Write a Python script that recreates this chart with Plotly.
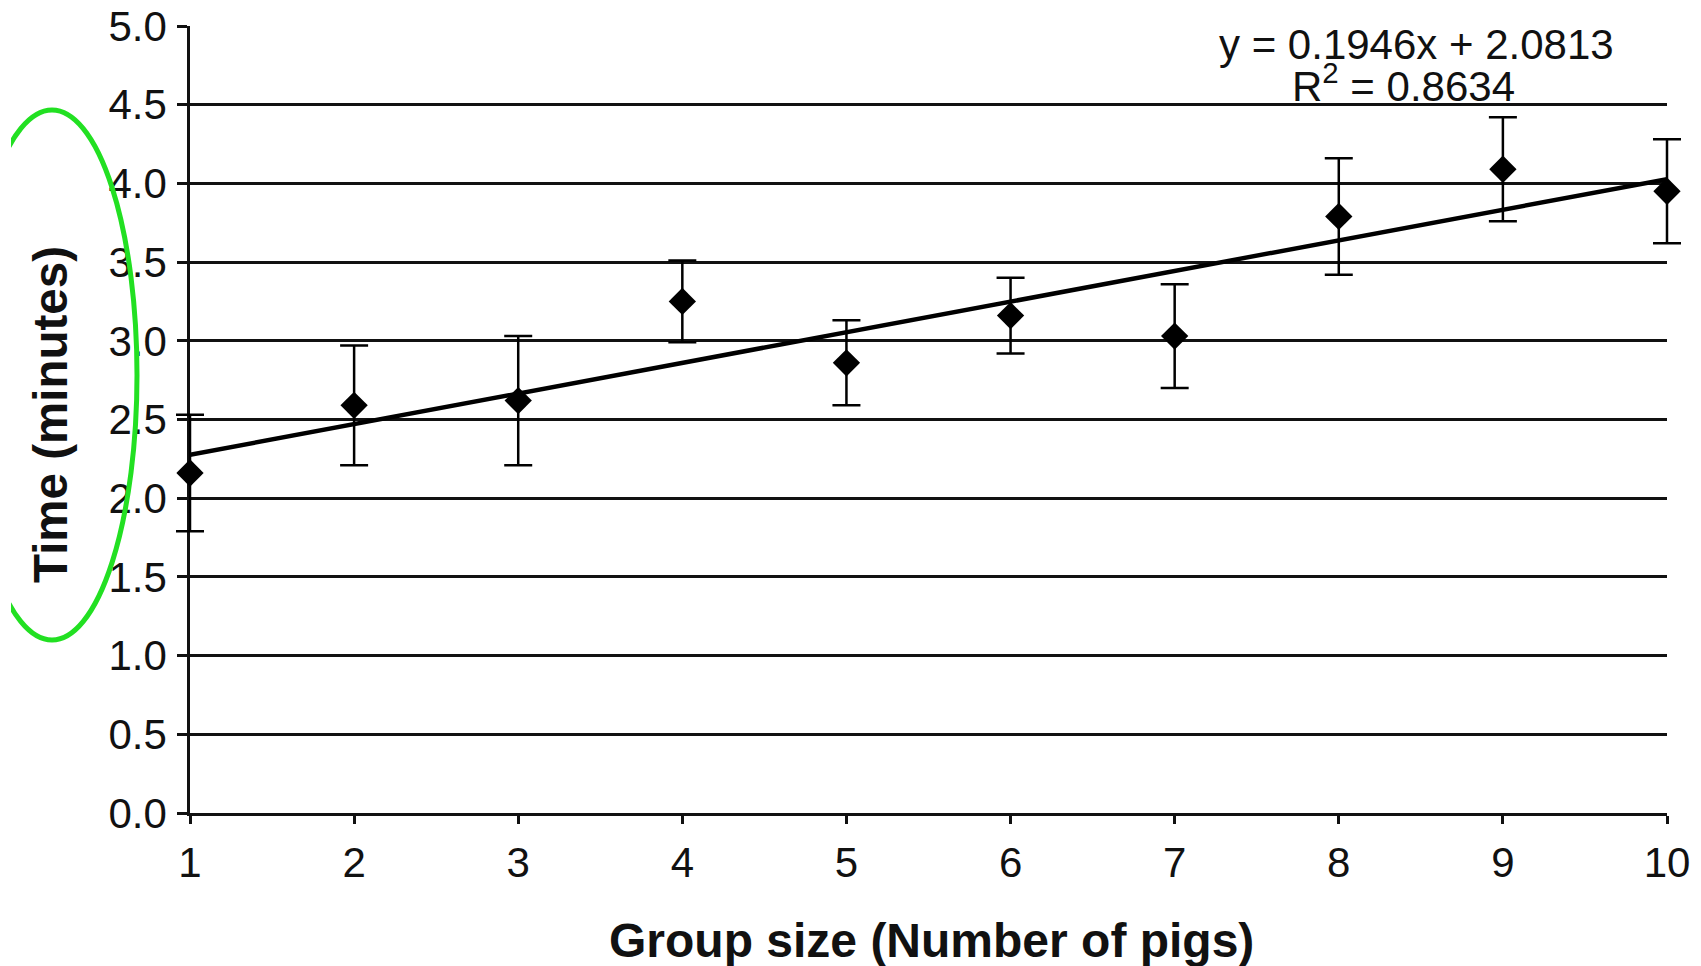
import plotly.graph_objects as go

# ---- data ----
group_size = [1, 2, 3, 4, 5, 6, 7, 8, 9, 10]
mean_time = [2.16, 2.59, 2.62, 3.25, 2.86, 3.16, 3.03, 3.79, 4.09, 3.95]
error_time = [0.37, 0.38, 0.41, 0.26, 0.27, 0.24, 0.33, 0.37, 0.33, 0.33]
trend_slope = 0.1946
trend_intercept = 2.0813
r_squared = 0.8634
y_ticks = [0.0, 0.5, 1.0, 1.5, 2.0, 2.5, 3.0, 3.5, 4.0, 4.5, 5.0]
x_range = [1, 10]
y_range = [0, 5]

# ---- layout geometry (pixels) ----
W, H = 1701, 966
ML, MR, MT, MB = 150, 10, 26, 153          # paper area
AX_L, AX_R = 190, 1667                      # x = 1 and x = 10 positions
PW, PH = W - ML - MR, H - MT - MB

d0 = (AX_L - ML) / PW
d1 = (AX_R - ML) / PW
unit = (AX_R - AX_L) / (x_range[1] - x_range[0])
x2_range = [x_range[0] - (AX_L - ML) / unit, x_range[1] + (W - MR - AX_R) / unit]


def px_x(px):
    return (px - ML) / PW


def px_y(py):
    return (H - MB - py) / PH


FONT = "Liberation Sans, Arial, Helvetica, sans-serif"
INK = "#111111"

trend_x = [x_range[0], x_range[1]]
trend_y = [trend_slope * v + trend_intercept for v in trend_x]

fig = go.Figure()

fig.add_trace(go.Scatter(
    x=trend_x, y=trend_y, mode="lines", xaxis="x", yaxis="y",
    line=dict(color="black", width=4.5),
    cliponaxis=False, showlegend=False, hoverinfo="skip",
))

fig.add_trace(go.Scatter(
    x=group_size, y=mean_time, mode="markers", xaxis="x2", yaxis="y2",
    marker=dict(symbol="diamond", size=21, color="black"),
    error_y=dict(type="data", array=error_time, visible=True,
                 color="black", thickness=2.5, width=14),
    cliponaxis=False, showlegend=False,
))

fig.update_layout(
    width=W, height=H,
    margin=dict(l=ML, r=MR, t=MT, b=MB, autoexpand=False),
    paper_bgcolor="white", plot_bgcolor="rgba(0,0,0,0)",
    font=dict(family=FONT, color=INK, size=42),
    xaxis=dict(
        domain=[d0, d1], anchor="y",
        range=x_range, tickmode="array", tickvals=group_size,
        ticktext=[str(v) for v in group_size],
        showgrid=False, zeroline=False,
        showline=True, linecolor=INK, linewidth=2.5,
        ticks="outside", ticklen=8, tickwidth=2.5, tickcolor=INK,
        tickfont=dict(size=42, family=FONT, color=INK),
        ticklabelstandoff=3,
    ),
    yaxis=dict(
        domain=[0, 1], anchor="x",
        range=y_range, tickmode="array", tickvals=y_ticks,
        ticktext=[f"{v:.1f}" for v in y_ticks],
        showgrid=True, gridcolor=INK, gridwidth=2.5,
        zeroline=False,
        showline=True, linecolor=INK, linewidth=2.5,
        ticks="outside", ticklen=10, tickwidth=2.5, tickcolor=INK,
        tickfont=dict(size=42, family=FONT, color=INK),
        ticklabelstandoff=2,
    ),
    xaxis2=dict(
        domain=[0, 1], anchor="y2", range=x2_range,
        visible=False, showgrid=False, zeroline=False,
    ),
    yaxis2=dict(
        domain=[0, 1], anchor="x2", range=y_range,
        visible=False, showgrid=False, zeroline=False,
    ),
    annotations=[
        dict(text=f"y = {trend_slope}x + {trend_intercept}",
             xref="paper", yref="paper", x=px_x(1416), y=px_y(44),
             xanchor="center", yanchor="middle", showarrow=False,
             borderpad=0,
             font=dict(size=42, family=FONT, color=INK)),
        dict(text=f"R<sup>2</sup> = {r_squared}",
             xref="paper", yref="paper", x=px_x(1403), y=px_y(83),
             xanchor="center", yanchor="middle", showarrow=False,
             borderpad=0,
             font=dict(size=42, family=FONT, color=INK)),
        dict(text="<b>Group size (Number of pigs)</b>",
             xref="paper", yref="paper", x=px_x(931), y=px_y(940),
             xanchor="center", yanchor="middle", showarrow=False,
             font=dict(size=48, family=FONT, color=INK)),
        dict(text="<b>Time (minutes)</b>",
             xref="paper", yref="paper", x=px_x(50), y=px_y(415),
             xanchor="center", yanchor="middle", showarrow=False,
             textangle=-90,
             font=dict(size=47.5, family=FONT, color=INK)),
    ],
    shapes=[
        dict(type="circle", xref="paper", yref="paper",
             x0=px_x(-33), x1=px_x(137), y0=px_y(640), y1=px_y(110),
             line=dict(color="#22e022", width=5), layer="above"),
        dict(type="rect", xref="paper", yref="paper",
             x0=px_x(-40), x1=px_x(11), y0=px_y(700), y1=px_y(50),
             line=dict(width=0), fillcolor="white", layer="above"),
    ],
)

fig.write_html("out.html", config={"displayModeBar": False},
               post_script="document.body.style.margin='0px';")
